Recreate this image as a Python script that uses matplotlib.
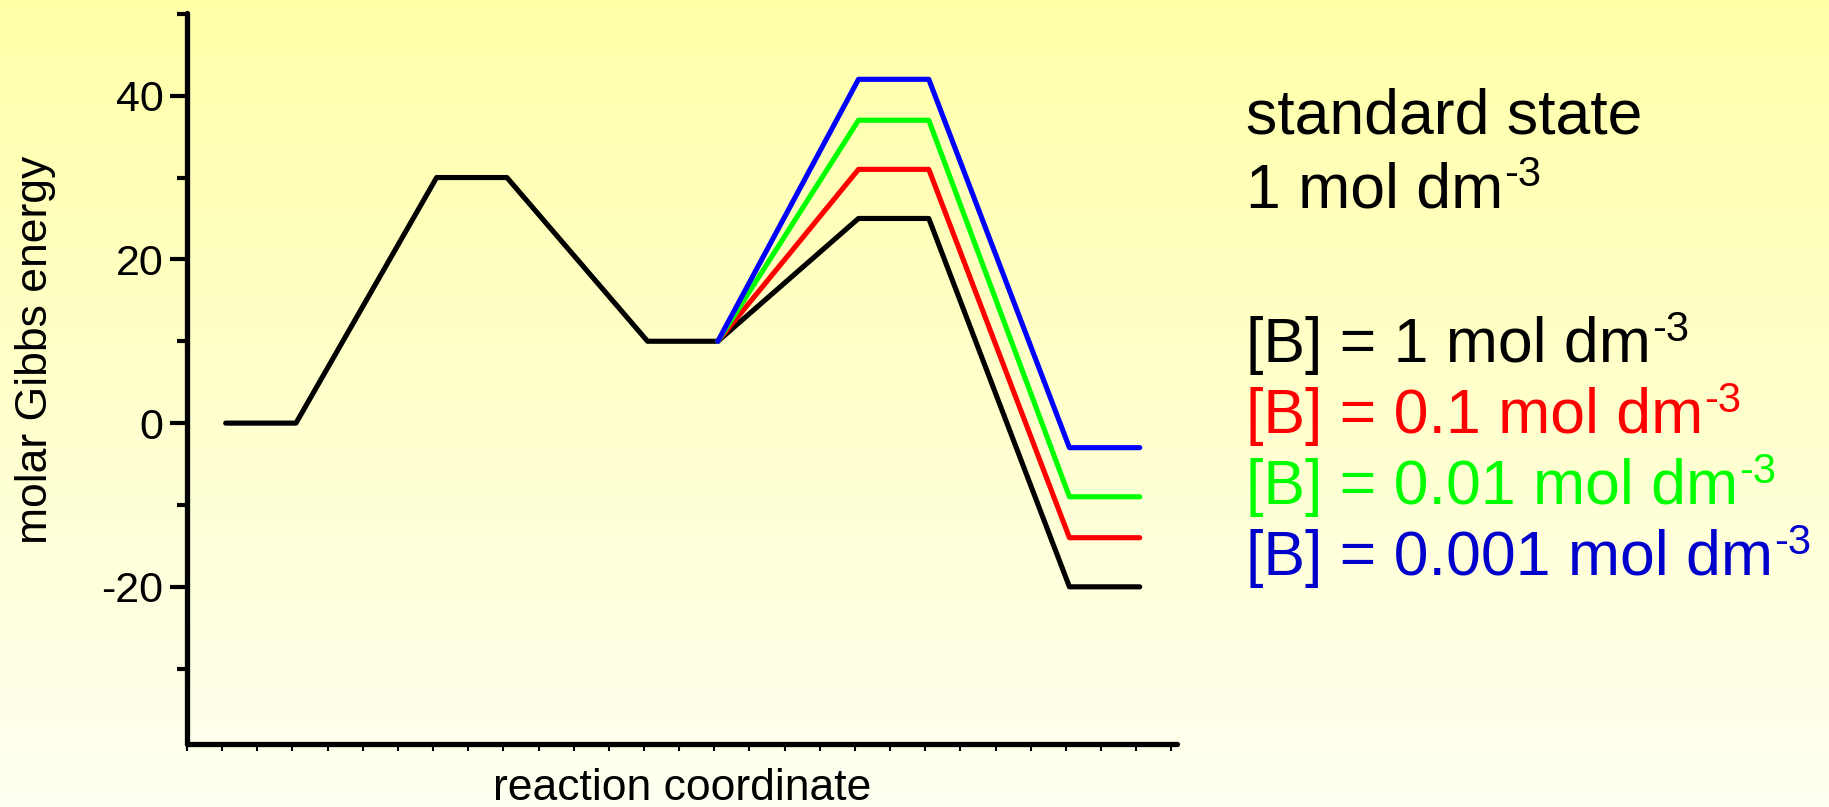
import numpy as np
import matplotlib
matplotlib.use("Agg")
import matplotlib.pyplot as plt
from matplotlib.font_manager import findfont, FontProperties

plt.rcParams['font.family'] = ['Liberation Sans', 'DejaVu Sans']

############################################
# data

# shared part of the profile (reactant -> TS1 -> intermediate)
stage_x = [0, 1, 3, 4, 6, 7]
stage_g = [0, 0, 30, 30, 10, 10]

# second step, one branch for each concentration of B
branch_x = [7, 9, 10, 12, 13]
conc_labels = ["1", "0.1", "0.01", "0.001"]
conc_colors = ["black", "#ff0000", "#00ff00", "#0000cc"]
line_colors = ["black", "#ff0000", "#00ff00", "#0000ff"]
ts2_g = [25, 31, 37, 42]
product_g = [-20, -14, -9, -3]

y_major = [-20, 0, 20, 40]
y_minor = [-30, -10, 10, 30, 50]

############################################

# axis titles in the picture are a condensed face
try:
    findfont(FontProperties(family="Liberation Sans Narrow"), fallback_to_default=False)
    narrow, narrow_size = "Liberation Sans Narrow", 38
except ValueError:
    narrow, narrow_size = "Liberation Sans", 32

W, H = 1829, 807
fig = plt.figure(figsize=(W / 100, H / 100), dpi=100)

# yellow -> near white background
bg = fig.add_axes([0, 0, 1, 1], zorder=-10)
grad = np.linspace(0, 1, 256).reshape(-1, 1)
top = np.array([255, 255, 168]) / 255
bottom = np.array([255, 255, 242]) / 255
img = top + grad[..., None] * (bottom - top)
bg.imshow(img, aspect="auto", extent=[0, 1, 0, 1])
bg.axis("off")

ax = fig.add_axes([187 / W, 1 - 744 / H, (1177 - 187) / W, (744 - 13) / H])
ax.patch.set_alpha(0)

lw = 3.7
ax.plot(stage_x, stage_g, color="black", lw=lw, solid_joinstyle="round",
        solid_capstyle="round")
for i in range(len(conc_labels)):
    g = [stage_g[-1], ts2_g[i], ts2_g[i], product_g[i], product_g[i]]
    ax.plot(branch_x, g, color=line_colors[i], lw=lw, solid_joinstyle="round",
            solid_capstyle="round")

ax.set_xlim(-0.55, 13.53)
ax.set_ylim(-39.2, 50.1)

for s in ["top", "right"]:
    ax.spines[s].set_visible(False)
for s in ["left", "bottom"]:
    ax.spines[s].set_linewidth(3.8)
    ax.spines[s].set_capstyle("round")

ax.set_yticks(y_major)
ax.set_yticks(y_minor, minor=True)
ax.set_yticklabels([str(v) for v in y_major])
ax.tick_params(axis="y", which="major", length=12, width=3, pad=5, labelsize=31)
ax.tick_params(axis="y", which="minor", length=7, width=3)
ax.set_xticks([])
ax.set_xticks(np.arange(-0.55, 13.5, 0.5), minor=True)
ax.tick_params(axis="x", which="minor", length=5, width=1.5, direction="out")

fig.text(36 / W, 1 - 350 / H, "molar Gibbs energy", rotation=90,
         fontsize=narrow_size, family=narrow, ha="center", va="center")
fig.text(682 / W, 7 / H, "reaction coordinate", fontsize=narrow_size,
         family=narrow, ha="center", va="baseline")

# annotation block on the right, superscripts drawn as their own texts
tx = 1246 / W
big = 45
sup = 30
lines = [("standard state", None, "black", 134),
         ("1 mol dm", "-3", "black", 207)]
rows = [362, 433, 504, 575]
for i in range(len(conc_labels)):
    lines.append(("[B] = " + conc_labels[i] + " mol dm", "-3", conc_colors[i], rows[i]))

fig.canvas.draw()
renderer = fig.canvas.get_renderer()
for txt, exp, col, base in lines:
    t = fig.text(tx, 1 - base / H, txt, fontsize=big, va="baseline", color=col)
    if exp:
        bb = t.get_window_extent(renderer)
        fig.text(bb.x1 / W + 1 / W, 1 - (base - 21) / H, exp, fontsize=sup,
                 va="baseline", color=col)

fig.savefig("out.png", dpi=100)
